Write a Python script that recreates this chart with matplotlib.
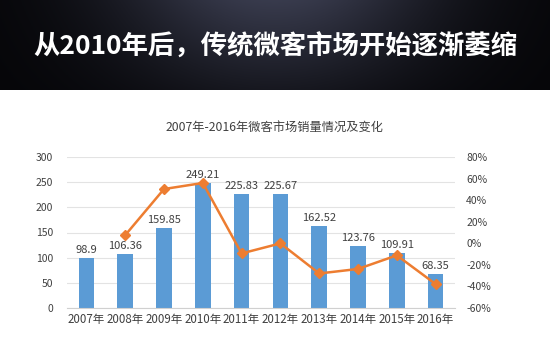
import matplotlib.pyplot as plt
import numpy as np

plt.rcParams['font.family'] = ['Noto Sans CJK SC', 'DejaVu Sans']

years = ['2007年', '2008年', '2009年', '2010年', '2011年', '2012年', '2013年', '2014年', '2015年', '2016年']
sales = [98.9, 106.36, 159.85, 249.21, 225.83, 225.67, 162.52, 123.76, 109.91, 68.35]
growth = [7.5, 50.3, 55.9, -9.4, -0.1, -28.0, -23.8, -11.2, -37.8]  # % change, from 2008
left_ticks = [0, 50, 100, 150, 200, 250, 300]
right_ticks = [-60, -40, -20, 0, 20, 40, 60, 80]

fig = plt.figure(figsize=(5.5, 3.48), dpi=100)
fig.patch.set_facecolor('white')

# dark header band with soft glow in the middle
hdr = fig.add_axes([0, 1 - 90 / 348, 1, 90 / 348])
xx, yy = np.meshgrid(np.linspace(-1, 1, 300), np.linspace(0, 1, 60))
glow = np.exp(-(xx / 0.6) ** 2) * (0.35 + 0.65 * yy)
c0 = np.array([0.02, 0.02, 0.03])
c1 = np.array([0.22, 0.23, 0.30])
img = c0 + glow[..., None] * (c1 - c0)
hdr.imshow(img, aspect='auto', extent=[0, 1, 0, 1], origin='lower')
hdr.set_xlim(0, 1)
hdr.set_ylim(0, 1)
hdr.axis('off')
hdr.text(0.5, 0.48, '从2010年后，传统微客市场开始逐渐萎缩', color='white',
         fontsize=19, fontweight='bold', ha='center', va='center')

fig.text(0.5, 1 - 127 / 348, '2007年-2016年微客市场销量情况及变化', ha='center', va='center',
         fontsize=8.8, color='#404040')

ax = fig.add_axes([67 / 550, 1 - 308 / 348, 388 / 550, 151 / 348])
x = np.arange(len(years))
ax.bar(x, sales, width=0.4, color='#5b9bd5', zorder=2)
for xi, v in zip(x, sales):
    ax.text(xi, v + 6, f'{v:g}', ha='center', va='bottom', fontsize=8, color='#404040')
ax.set_ylim(0, 300)
ax.set_xlim(-0.5, len(years) - 0.5)
ax.set_yticks(left_ticks)
ax.set_xticks(x)
ax.set_xticklabels(years)
ax.yaxis.grid(True, color='#e3e3e3', lw=0.8, zorder=0)
ax.set_axisbelow(True)
for s in ['top', 'right', 'left']:
    ax.spines[s].set_visible(False)
ax.spines['bottom'].set_color('#d0d0d0')
ax.tick_params(axis='x', length=0, labelsize=8.3, colors='#404040')
ax.tick_params(axis='y', length=0, labelsize=7.5, colors='#404040', pad=10)

ax2 = ax.twinx()
ax2.plot(x[1:], growth, color='#ed7d31', lw=1.8, marker='D', markersize=5, zorder=3)
ax2.set_ylim(-60, 80)
ax2.set_yticks(right_ticks)
ax2.set_yticklabels([f'{t}%' for t in right_ticks])
for s in ax2.spines.values():
    s.set_visible(False)
ax2.tick_params(axis='y', length=0, labelsize=7.5, colors='#404040', pad=8)

fig.savefig('out.png', dpi=100)
